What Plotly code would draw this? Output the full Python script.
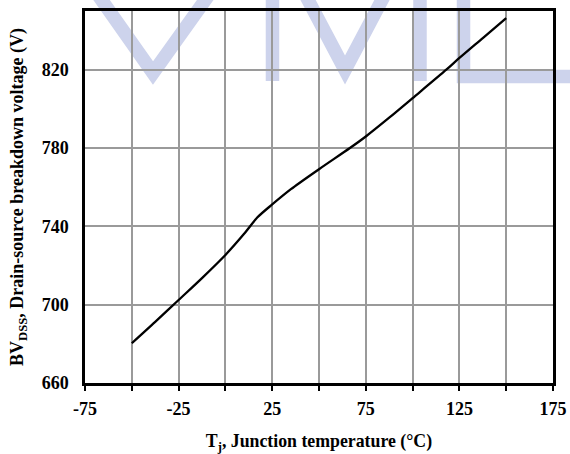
import plotly.graph_objects as go

temp_c = [-50, -37.5, -25, -12.5, 0, 10, 17, 25, 35, 50, 66.5, 75, 87.5, 100, 118, 125, 137.5, 150]
bv_v = [680.3, 691.2, 702.4, 713.6, 725.4, 736.2, 744.5, 751.2, 759.0, 769.2, 780.0, 785.9, 795.5, 805.5, 820.0, 826.0, 836.2, 846.4]

x_ticks = [-75, -25, 25, 75, 125, 175]
x_tick_labels = ["-75", "-25", "25", "75", "125", "175"]
y_ticks = [660, 700, 740, 780, 820]

serif = "Liberation Serif, Times New Roman, serif"

# plot-area geometry (pixels) used only to place the decorative watermark
L, R, T, B = 85, 553, 11, 383
W, H = 570, 454


def pp(x, y):
    return f"{(x - L) / (R - L):.4f},{(B - y) / (B - T):.4f}"


wm_color = "#cdd3ec"
wm_paths = [
    f"M{pp(87.5, -20)} L{pp(153, 73)} L{pp(219.5, -20)}",              # V
    f"M{pp(272.5, 81)} L{pp(272.5, -20)}",                             # M left stem
    f"M{pp(297.5, -20)} L{pp(345, 70)} L{pp(392.5, -20)}",             # M middle
    f"M{pp(420, 81)} L{pp(420, -20)}",                                 # M right stem
    f"M{pp(463.5, -20)} L{pp(463.5, 76.5)} L{pp(600, 76.5)}",          # L
]

fig = go.Figure()
for p in wm_paths:
    fig.add_shape(type="path", path=p, xref="paper", yref="paper",
                  line=dict(color=wm_color, width=13.5), layer="below")

fig.add_trace(go.Scatter(
    x=temp_c, y=bv_v, mode="lines",
    line=dict(color="black", width=2.3, shape="spline", smoothing=0.8),
    showlegend=False, hoverinfo="skip"))

fig.update_layout(
    width=W, height=H,
    margin=dict(l=L, r=W - R, t=T, b=H - B),
    plot_bgcolor="white", paper_bgcolor="white",
    font=dict(family=serif, color="black"),
    xaxis=dict(
        range=[-75, 175], tickvals=x_ticks, ticktext=x_tick_labels, automargin=False,
        showgrid=True, gridcolor="#9a9a9a", gridwidth=1.5,
        minor=dict(dtick=25, tick0=-75, showgrid=True, gridcolor="#9a9a9a", gridwidth=1.5,
                   ticks="outside", ticklen=5, tickcolor="black", tickwidth=1.5),
        ticks="outside", ticklen=5, tickcolor="black", tickwidth=1.5,
        ticklabelstandoff=3,
        showline=True, linecolor="black", linewidth=2.5, mirror=True,
        zeroline=False,
        tickfont=dict(family=serif, size=18, weight="bold"),
        title=dict(text="T<sub>j</sub>, Junction temperature (°C)",
                   font=dict(family=serif, size=17.8, weight="bold"), standoff=20)),
    yaxis=dict(
        range=[660, 850], tickvals=y_ticks, automargin=False,
        showgrid=True, gridcolor="#9a9a9a", gridwidth=1.5,
        ticks="", ticklabelstandoff=10,
        showline=True, linecolor="black", linewidth=2.5, mirror=True,
        zeroline=False,
        tickfont=dict(family=serif, size=18, weight="bold"),
        title=dict(text="BV<sub>DSS</sub>, Drain-source breakdown voltage (V)",
                   font=dict(family=serif, size=18, weight="bold"), standoff=14)),
)

fig.write_html("out.html")
